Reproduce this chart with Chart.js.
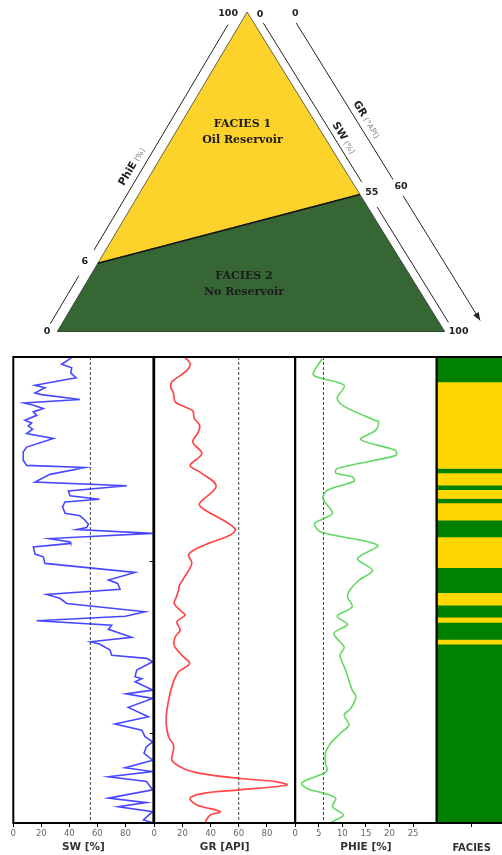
<!DOCTYPE html>
<html>
<head>
<meta charset="utf-8">
<script src="https://cdn.jsdelivr.net/npm/chart.js@4.4.1/dist/chart.umd.min.js"></script>
<style>
  html, body { margin: 0; padding: 0; background: #fff; }
  body { width: 502px; height: 855px; overflow: hidden; position: relative; }
  canvas { position: absolute; }
</style>
</head>
<body>
<canvas id="tri" width="502" height="345" style="left:0;top:0"></canvas>
<script>
// ---- Well data -------------------------------------------------------------
const DEPTH_TOP = 2041;
const DEPTH_BOTTOM = 2176;
const DEPTH_TICKS = [2100, 2150];

// cutoffs used for the facies classification
const SW_CUTOFF = 55;
const GR_CUTOFF = 60;
const PHIE_CUTOFF = 6;

const SW_DEPTH = [2041.2,2043.1,2044.1,2045.6,2047.0,2049.2,2049.9,2051.4,2051.9,2053.3,
  2054.3,2055.0,2055.9,2056.9,2057.9,2059.3,2060.1,2061.0,2061.9,2063.2,
  2064.6,2067.1,2068.5,2070.9,2072.4,2073.0,2075.0,2077.2,2078.3,2079.8,
  2081.2,2082.2,2083.0,2084.4,2086.3,2087.0,2088.3,2089.4,2090.4,2091.0,
  2092.1,2093.6,2094.6,2095.0,2096.0,2098.1,2098.9,2100.8,2103.4,2105.6,
  2106.6,2108.3,2109.8,2110.9,2112.4,2114.8,2116.1,2117.4,2118.7,2119.9,
  2122.2,2123.5,2124.2,2125.9,2127.4,2128.3,2129.3,2131.7,2133.6,2134.2,
  2135.1,2137.5,2138.6,2139.9,2142.5,2145.2,2147.3,2149.1,2151.0,2152.5,
  2153.9,2155.8,2157.8,2160.0,2161.1,2162.6,2164.0,2166.4,2168.8,2170.1,
  2171.3,2172.7,2175.1,2175.9];
const SW = [41.7,34.5,41.7,41,44.8,15.5,22.6,15.5,20.2,47.6,
  7.6,14.3,21.4,14.3,16.7,8.3,13.1,10.7,13.8,9.5,
  28.6,9.5,7.1,7.1,9.5,51.2,26.2,15.5,81,39.3,
  40.5,61.4,36.9,35.2,36.9,47.6,51.2,53.6,52.4,45.2,
  99.5,25.7,40.5,41,14.3,15.5,21.4,22.6,86.9,67.9,
  74.5,76.2,23.8,33.3,38.1,94,80,16.7,70.2,67.9,
  84.5,55.2,61.9,69,70.2,95.2,99.5,88.1,86.9,91.7,
  86.9,99.5,80.5,99.5,82.1,96.4,72.6,91.7,94,99.5,
  95,93.3,99.5,79.8,99.5,67.9,95,99.5,67.9,95,
  75,99.5,92.9,99.5];

const GR_DEPTH = [2041.2,2042.9,2044.9,2048.2,2049.7,2051.6,2054.0,2055.5,2056.6,2058.8,
  2060.8,2062.7,2065.6,2069.0,2072.4,2074.3,2078.4,2083.4,2084.9,2090.7,
  2092.6,2095.0,2097.0,2098.4,2100.8,2105.2,2107.1,2108.5,2110.7,2112.4,
  2114.8,2115.8,2117.7,2120.1,2122.1,2124.5,2127.4,2129.8,2132.2,2135.1,
  2138.4,2143.3,2147.1,2151.0,2153.4,2155.8,2157.8,2160.2,2161.6,2163.1,
  2164.0,2165.0,2166.4,2167.4,2168.8,2170.8,2172.7,2173.7,2175.6];
const GR = [22,25.5,23.2,12.5,11.8,13.7,14.9,22,27.4,28.4,
  32.2,31.4,27.4,33.8,25.5,32.2,44,32.2,34.5,57.4,
  53.9,38.5,27.9,24.4,26.7,20.8,18,17.3,15.6,14.2,
  19.6,22,16.1,18.4,14.9,14.2,19.6,25.1,17.3,13.7,
  11.3,9,8.5,10.2,13.7,13.2,12.5,20.8,32.6,61,
  85.8,94.1,61,35,25.5,30.3,46.8,39.7,36.2];

const PHIE_DEPTH = [2041.5,2045.8,2046.8,2049.2,2053.0,2055.3,2059.3,2059.8,2062.2,2064.9,
  2068.0,2069.5,2073.3,2074.6,2075.7,2077.0,2079.6,2082.0,2086.2,2087.8,
  2089.2,2091.7,2095.5,2099.4,2102.8,2105.6,2108.5,2110.5,2113.4,2116.1,
  2118.5,2121.1,2125.1,2127.4,2131.7,2137.5,2139.4,2142.8,2144.7,2147.6,
  2150.0,2152.9,2155.8,2158.7,2160.7,2161.6,2164.3,2166.0,2167.4,2168.8,
  2171.3,2173.7,2175.9];
const PHIE = [5.7,3.8,4.6,10.4,8.9,10.4,16.8,17.7,17.1,13.9,
  21.2,21.4,8.9,8.6,12.1,12.5,6.8,5.9,7.9,6.1,
  4.1,5.4,17.5,13.2,16.4,13.6,11.6,11.1,12.1,8.9,
  11.1,8.2,10.4,9.5,10.7,12.1,12.9,11.8,10.4,11.4,
  9.6,7.5,6.4,6.4,6.8,6.1,1.4,2.5,6.1,8.6,
  7.9,10.2,7.5];

// facies intervals: top depth of each interval and its facies code
const FACIES_TOP  = [2041,2048.2,2073.3,2074.6,2078.1,2079.4,2082.0,2083.3,2088.3,2093.1,2102.0,2109.3,2112.9,2116.4,2117.9,2122.8,2124.2];
const FACIES_CODE = [2,1,2,1,2,1,2,1,2,1,2,1,2,1,2,1,2];

const SW_TICKS = [0, 20, 40, 60, 80];
const GR_TICKS = [0, 20, 40, 60, 80];
const PHIE_TICKS = [0, 5, 10, 15, 20, 25];

const FACIES_LABEL = { 1: ['FACIES 1', 'Oil Reservoir'], 2: ['FACIES 2', 'No Reservoir'] };
const FACIES_COLOR = { 1: '#FFD700', 2: '#008000' };
const DIAGRAM_COLOR = { 1: '#FCD22B', 2: '#356633' };

// ---- Classification diagram ------------------------------------------------
// triangle drawn in its own unit space: base 0..100, apex height 100
const TRI_BL = [0, 0], TRI_BR = [100, 0], TRI_APEX = [49, 100];
// where the cutoffs sit along the (schematic) edges
const PHIE_CUT_POS = 0.215;  // along BL -> apex
const SW_CUT_POS = 0.57;     // along apex -> BR

Chart.defaults.font.family = 'DejaVu Sans';
Chart.defaults.animation = false;

const lerp = (a, b, t) => [a[0] + (b[0] - a[0]) * t, a[1] + (b[1] - a[1]) * t];
const pt = p => ({ x: p[0], y: p[1] });
const leftCut = lerp(TRI_BL, TRI_APEX, PHIE_CUT_POS);
const rightCut = lerp(TRI_APEX, TRI_BR, SW_CUT_POS);

function edge(chart, p0, p1) {
  const xs = chart.scales.x, ys = chart.scales.y;
  const a = { x: xs.getPixelForValue(p0[0]), y: ys.getPixelForValue(p0[1]) };
  const b = { x: xs.getPixelForValue(p1[0]), y: ys.getPixelForValue(p1[1]) };
  const dx = b.x - a.x, dy = b.y - a.y, len = Math.hypot(dx, dy);
  const ux = dx / len, uy = dy / len;
  return {
    angle: Math.atan2(uy, ux),
    at(t, n) { return { x: a.x + ux * len * t + uy * n, y: a.y + uy * len * t - ux * n }; }
  };
}

// guide axes beside the edges: [edge, offset px, segments, arrow]
const GUIDES = [
  { edge: 'left', off: 10, segs: [[0.01, 0.16], [0.24, 0.945]] },
  { edge: 'right', off: 8, segs: [[0.047, 0.545], [0.623, 0.983]] },
  { edge: 'right', off: 36, segs: [[0.093, 0.583], [0.634, 1.023]], arrow: true }
];
const AXIS_NUMBERS = [
  { edge: 'left', t: -0.012, n: 9, text: '0' },
  { edge: 'left', t: 0.2, n: 12, text: String(PHIE_CUTOFF) },
  { edge: 'left', t: 0.97, n: 15.5, text: '100' },
  { edge: 'right', t: 0.023, n: 10, text: '0' },
  { edge: 'right', t: 0.583, n: 11, text: String(SW_CUTOFF) },
  { edge: 'right', t: 1.017, n: 12, text: '100' },
  { edge: 'right', t: 0.071, n: 40, text: '0' },
  { edge: 'right', t: 0.61, n: 39, text: String(GR_CUTOFF) }
];
const AXIS_TITLES = [
  { edge: 'left', t: 0.485, n: 21, name: 'PhiE', unit: ' (%)' },
  { edge: 'right', t: 0.42, n: 17, name: 'SW', unit: ' (%)' },
  { edge: 'right', t: 0.41, n: 46, name: 'GR', unit: ' (°API)' }
];
const REGION_TEXT = [
  { code: 1, x: 47.8, y: 65, dy: 16 },
  { code: 2, x: 48.2, y: 17.5, dy: 16 }
];

const diagramDecor = {
  id: 'diagramDecor',
  afterDatasetsDraw(chart) {
    const ctx = chart.ctx;
    const edges = { left: edge(chart, TRI_BL, TRI_APEX), right: edge(chart, TRI_APEX, TRI_BR) };
    ctx.save();
    ctx.strokeStyle = '#222';
    ctx.fillStyle = '#222';
    ctx.lineWidth = 1;
    for (const g of GUIDES) {
      const e = edges[g.edge];
      for (const [t0, t1] of g.segs) {
        const p = e.at(t0, g.off), q = e.at(t1, g.off);
        ctx.beginPath(); ctx.moveTo(p.x, p.y); ctx.lineTo(q.x, q.y); ctx.stroke();
        if (g.arrow && t1 === g.segs[g.segs.length - 1][1]) {
          ctx.save();
          ctx.translate(q.x, q.y); ctx.rotate(e.angle);
          ctx.beginPath(); ctx.moveTo(0, 0); ctx.lineTo(-8, -3.2); ctx.lineTo(-8, 3.2); ctx.closePath(); ctx.fill();
          ctx.restore();
        }
      }
    }
    ctx.textAlign = 'center';
    ctx.textBaseline = 'middle';
    ctx.font = 'bold 9.5px "DejaVu Sans"';
    for (const l of AXIS_NUMBERS) {
      const p = edges[l.edge].at(l.t, l.n);
      ctx.fillText(l.text, p.x, p.y);
    }
    for (const l of AXIS_TITLES) {
      const e = edges[l.edge], p = e.at(l.t, l.n);
      ctx.save();
      ctx.translate(p.x, p.y); ctx.rotate(e.angle);
      ctx.textAlign = 'left'; ctx.textBaseline = 'alphabetic';
      ctx.font = 'bold 10.5px "DejaVu Sans"';
      const w1 = ctx.measureText(l.name).width;
      ctx.font = '8px "DejaVu Sans"';
      const w2 = ctx.measureText(l.unit).width;
      const x0 = -(w1 + w2) / 2;
      ctx.font = 'bold 10.5px "DejaVu Sans"'; ctx.fillStyle = '#222';
      ctx.fillText(l.name, x0, 4);
      ctx.font = '8px "DejaVu Sans"'; ctx.fillStyle = '#888';
      ctx.fillText(l.unit, x0 + w1, 4);
      ctx.restore();
    }
    ctx.fillStyle = '#1c1c1c';
    ctx.font = 'bold 11px "DejaVu Serif"';
    ctx.textAlign = 'center'; ctx.textBaseline = 'middle';
    const xs = chart.scales.x, ys = chart.scales.y;
    for (const r of REGION_TEXT) {
      const x = xs.getPixelForValue(r.x), y = ys.getPixelForValue(r.y);
      FACIES_LABEL[r.code].forEach((s, i) => ctx.fillText(s, x, y + i * r.dy));
    }
    ctx.restore();
  }
};

new Chart(document.getElementById('tri'), {
  type: 'scatter',
  data: {
    datasets: [
      { data: [leftCut, rightCut].map(pt), showLine: true, borderColor: '#151515', borderWidth: 1.5, pointRadius: 0 },
      { data: [TRI_APEX, leftCut, rightCut, TRI_APEX].map(pt), showLine: true, fill: 'shape',
        backgroundColor: DIAGRAM_COLOR[1], borderColor: 'rgba(40,40,40,0.7)', borderWidth: 1, pointRadius: 0 },
      { data: [leftCut, TRI_BL, TRI_BR, rightCut, leftCut].map(pt), showLine: true, fill: 'shape',
        backgroundColor: DIAGRAM_COLOR[2], borderColor: 'rgba(40,40,40,0.7)', borderWidth: 1, pointRadius: 0 }
    ]
  },
  options: {
    responsive: false,
    layout: { padding: { left: 57, right: 57, top: 12, bottom: 13 } },
    scales: {
      x: { type: 'linear', min: 0, max: 100, display: false },
      y: { type: 'linear', min: 0, max: 100, display: false }
    },
    plugins: { legend: { display: false }, tooltip: { enabled: false } }
  },
  plugins: [diagramDecor]
});

// ---- Log tracks ------------------------------------------------------------
const trackFrame = {
  id: 'trackFrame',
  afterDraw(chart, args, opts) {
    const { ctx, chartArea: a } = chart;
    ctx.save();
    ctx.strokeStyle = '#000';
    ctx.lineWidth = 2;
    ctx.strokeRect(a.left, a.top, a.right - a.left, a.bottom - a.top);
    if (opts.depthTicks) {
      const ys = chart.scales.y;
      ctx.lineWidth = 1;
      ctx.beginPath();
      for (const d of DEPTH_TICKS) {
        const y = Math.round(ys.getPixelForValue(d)) + 0.5;
        ctx.moveTo(a.left - 1, y); ctx.lineTo(a.left - 4.5, y);
      }
      ctx.stroke();
    }
    ctx.restore();
  }
};

function makeCanvas(box) {
  const c = document.createElement('canvas');
  const left = Math.floor(box.l) - 20, top = 345;
  const width = Math.ceil(box.r) - left + 20, height = 510;
  c.width = width; c.height = height;
  c.style.left = left + 'px'; c.style.top = top + 'px';
  document.body.appendChild(c);
  return { c, padL: box.l - left, padR: left + width - box.r };
}

function xAxis(title, min, max, ticks) {
  return {
    type: 'linear', position: 'bottom', min, max,
    afterBuildTicks: s => { s.ticks = ticks.map(v => ({ value: v })); },
    afterFit: s => { s.height = 32; },
    grid: { drawOnChartArea: false, drawTicks: true, tickLength: 4, color: '#000' },
    border: { display: false },
    ticks: { color: '#666', font: { size: 8.5 }, padding: 2, maxRotation: 0, autoSkip: false },
    title: { display: true, text: title, color: '#333', font: { size: 10.5, weight: 'bold' }, padding: { top: 0, bottom: 1 } }
  };
}
const yAxis = { type: 'linear', reverse: true, min: DEPTH_TOP, max: DEPTH_BOTTOM, display: false };

function logTrack(box, cfg) {
  const { c, padL, padR } = makeCanvas(box);
  new Chart(c, {
    type: 'scatter',
    data: {
      datasets: [
        { data: cfg.values.map((v, i) => ({ x: v, y: cfg.depth[i] })), showLine: true, pointRadius: 0,
          borderColor: cfg.color, borderWidth: cfg.width, tension: cfg.tension },
        { data: [{ x: cfg.cutoff, y: DEPTH_TOP }, { x: cfg.cutoff, y: DEPTH_BOTTOM }], showLine: true, pointRadius: 0,
          borderColor: '#444', borderWidth: 1, borderDash: [3, 2] }
      ]
    },
    options: {
      responsive: false,
      layout: { padding: { left: padL, right: padR, top: 12, bottom: 0 } },
      scales: { x: xAxis(cfg.title, cfg.min, cfg.max, cfg.ticks), y: yAxis },
      plugins: { legend: { display: false }, tooltip: { enabled: false }, trackFrame: { depthTicks: !!cfg.depthTicks } }
    },
    plugins: [trackFrame]
  });
}

logTrack({ l: 13.3, r: 153.4 }, { title: 'SW [%]', values: SW, depth: SW_DEPTH, min: 0, max: 100, ticks: SW_TICKS,
  cutoff: SW_CUTOFF, color: 'rgba(25,25,255,0.8)', width: 1.6, tension: 0 });
logTrack({ l: 154.2, r: 295.1 }, { title: 'GR [API]', values: GR, depth: GR_DEPTH, min: 0, max: 100, ticks: GR_TICKS,
  cutoff: GR_CUTOFF, color: 'rgba(255,25,25,0.8)', width: 1.7, tension: 0.35, depthTicks: true });
logTrack({ l: 295.2, r: 436.6 }, { title: 'PHIE [%]', values: PHIE, depth: PHIE_DEPTH, min: 0, max: 30, ticks: PHIE_TICKS,
  cutoff: PHIE_CUTOFF, color: 'rgba(70,210,70,0.85)', width: 1.6, tension: 0.3 });

// facies column
(function () {
  const box = { l: 436.8, r: 506.5 };
  const { c, padL, padR } = makeCanvas(box);
  const datasets = FACIES_TOP.map((top, i) => ({
    data: [[top, i + 1 < FACIES_TOP.length ? FACIES_TOP[i + 1] : DEPTH_BOTTOM]],
    backgroundColor: FACIES_COLOR[FACIES_CODE[i]],
    borderWidth: 0, barPercentage: 1, categoryPercentage: 1, grouped: false
  }));
  new Chart(c, {
    type: 'bar',
    data: { labels: ['FACIES'], datasets },
    options: {
      responsive: false,
      layout: { padding: { left: padL, right: padR, top: 12, bottom: 0 } },
      scales: {
        x: {
          type: 'category', position: 'bottom',
          afterFit: s => { s.height = 32; },
          grid: { offset: false, drawOnChartArea: false, drawTicks: true, tickLength: 4, color: '#000' },
          border: { display: false },
          ticks: { display: false },
          title: { display: true, text: 'FACIES', color: '#333', font: { size: 10, weight: 'bold' }, padding: { top: 0, bottom: 1 } }
        },
        y: yAxis
      },
      plugins: { legend: { display: false }, tooltip: { enabled: false }, trackFrame: { depthTicks: false } }
    },
    plugins: [trackFrame]
  });
})();
</script>
</body>
</html>
